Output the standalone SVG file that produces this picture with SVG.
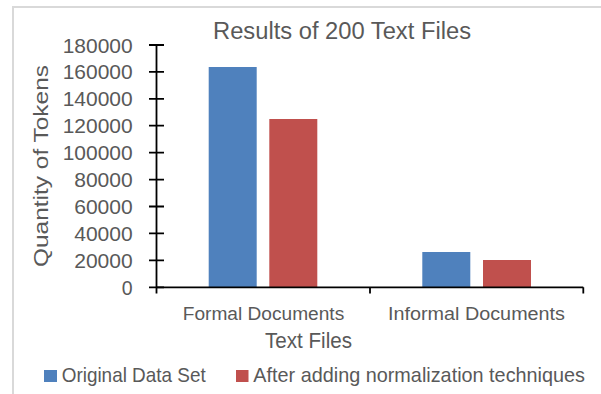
<svg xmlns="http://www.w3.org/2000/svg" width="601" height="394" viewBox="0 0 601 394">
<style>
  text { font-family: "Liberation Sans", Arial, sans-serif; fill: #595959; }
  .tick { font-size: 19.5px; text-anchor: end; }
  .cat { font-size: 17.5px; text-anchor: middle; }
  .axis { stroke: #000; stroke-width: 1.8; fill: none; }
  .blue { fill: #4F81BD; }
  .red { fill: #C0504D; }
  .leg { font-size: 19.8px; }
</style>
<rect x="0" y="0" width="601" height="394" fill="#fff"/>
<path d="M13 394 V7 H601" stroke="#d9d9d9" stroke-width="2" fill="none"/>
<g id="title">
  <text x="342" y="38.7" font-size="23" text-anchor="middle" textLength="258" lengthAdjust="spacingAndGlyphs">Results of 200 Text Files</text>
</g>
<g id="y-axis-title">
  <text transform="translate(47.5,166) rotate(-90)" font-size="20.5" text-anchor="middle" textLength="202" lengthAdjust="spacingAndGlyphs">Quantity of Tokens</text>
</g>
<g id="bars">
  <rect class="blue" x="208.7" y="67" width="48" height="220.3"/>
  <rect class="red" x="269.3" y="119" width="48" height="168.3"/>
  <rect class="blue" x="422.3" y="252" width="48" height="35.3"/>
  <rect class="red" x="483" y="260" width="48" height="27.3"/>
</g>
<g id="axes">
  <path class="axis" d="M156.5 45 V287.3 M149 45 H164 M149 71.9 H164 M149 98.8 H164 M149 125.7 H164 M149 152.6 H164 M149 179.6 H164 M149 206.5 H164 M149 233.4 H164 M149 260.4 H164 M149 287.3 H164"/>
  <path class="axis" d="M156.5 287.3 H583.3 M156.5 287.3 V293.5 M370 287.3 V293.5 M583.3 287.3 V293.5"/>
</g>
<g id="y-ticks">
  <text class="tick" x="132.7" y="52.5" textLength="70" lengthAdjust="spacingAndGlyphs">180000</text>
  <text class="tick" x="132.7" y="79.4" textLength="70" lengthAdjust="spacingAndGlyphs">160000</text>
  <text class="tick" x="132.7" y="106.3" textLength="70" lengthAdjust="spacingAndGlyphs">140000</text>
  <text class="tick" x="132.7" y="133.2" textLength="70" lengthAdjust="spacingAndGlyphs">120000</text>
  <text class="tick" x="132.7" y="160.1" textLength="70" lengthAdjust="spacingAndGlyphs">100000</text>
  <text class="tick" x="132.7" y="187.1" textLength="58.5" lengthAdjust="spacingAndGlyphs">80000</text>
  <text class="tick" x="132.7" y="214" textLength="58.5" lengthAdjust="spacingAndGlyphs">60000</text>
  <text class="tick" x="132.7" y="240.9" textLength="58.5" lengthAdjust="spacingAndGlyphs">40000</text>
  <text class="tick" x="132.7" y="267.9" textLength="58.5" lengthAdjust="spacingAndGlyphs">20000</text>
  <text class="tick" x="132.7" y="294.8">0</text>
</g>
<g id="x-labels">
  <text class="cat" x="263.5" y="320" textLength="161.5" lengthAdjust="spacingAndGlyphs">Formal Documents</text>
  <text class="cat" x="476.5" y="320" textLength="177" lengthAdjust="spacingAndGlyphs">Informal Documents</text>
  <text x="308.5" y="347.8" font-size="21.5" text-anchor="middle" textLength="87" lengthAdjust="spacingAndGlyphs">Text Files</text>
</g>
<g id="legend">
  <rect class="blue" x="44" y="370" width="13" height="12"/>
  <text class="leg" x="61.7" y="382.3" textLength="144" lengthAdjust="spacingAndGlyphs">Original Data Set</text>
  <rect class="red" x="236" y="370" width="12.5" height="12"/>
  <text class="leg" x="253.3" y="382.3" textLength="331.7" lengthAdjust="spacingAndGlyphs">After adding normalization techniques</text>
</g>
</svg>
